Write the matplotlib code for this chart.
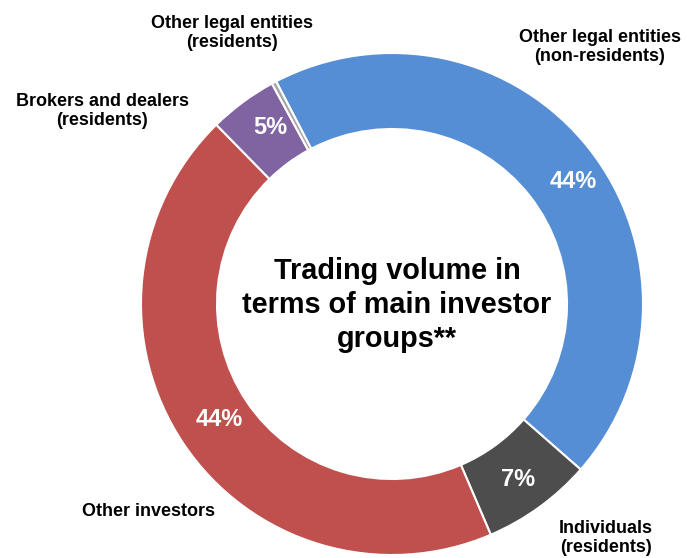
import numpy as np
import matplotlib.pyplot as plt

plt.rcParams['font.family'] = ['Liberation Sans', 'DejaVu Sans']

# investor groups, clockwise from the top-left boundary
groups = ["Other legal entities\n(non-residents)", "Individuals\n(residents)",
          "Other investors", "Brokers and dealers\n(residents)",
          "Other legal entities\n(residents)"]
shares = [44.1, 7.1, 44.1, 4.4, 0.3]
pct_labels = ["44%", "7%", "44%", "5%", ""]
colors = ["#558ED5", "#4D4D4D", "#C0504D", "#8064A2", "#A6A6A6"]

W, H = 687, 558
fig = plt.figure(figsize=(W / 100, H / 100), dpi=100)
ax = fig.add_axes([0, 0, 1, 1])

cx, cy = 392, H - 304
R, ring = 251, 76

wedges, _ = ax.pie(shares, colors=colors, startangle=117.5, counterclock=False,
                   center=(cx, cy), radius=R, frame=True,
                   wedgeprops=dict(width=ring, edgecolor="white", linewidth=1.5))
ax.set_xlim(0, W)
ax.set_ylim(0, H)
ax.set_aspect("equal")
ax.axis("off")

# percentage labels sit inside the ring (placed like the original)
pct_pos = [(573, H - 182), (518, H - 480), (219, H - 419), (270, H - 127), (0, 0)]
for (x, y), lab in zip(pct_pos, pct_labels):
    ax.text(x, y, lab, ha="center", va="center", color="white",
            fontsize=17, fontweight="bold")

ax.text(397, H - 305, "Trading volume in\nterms of main investor\ngroups**",
        ha="center", va="center", fontsize=20.8, fontweight="bold", linespacing=1.27)

# outer category labels
label_pos = [(600, H - 47), (606, H - 538), (149, H - 512), (102, H - 111), (232, H - 33)]
for name, (x, y) in zip(groups, label_pos):
    ax.text(x, y, name, ha="center", va="center", fontsize=13, fontweight="bold",
            linespacing=1.15)

fig.savefig("out.png", dpi=100)
